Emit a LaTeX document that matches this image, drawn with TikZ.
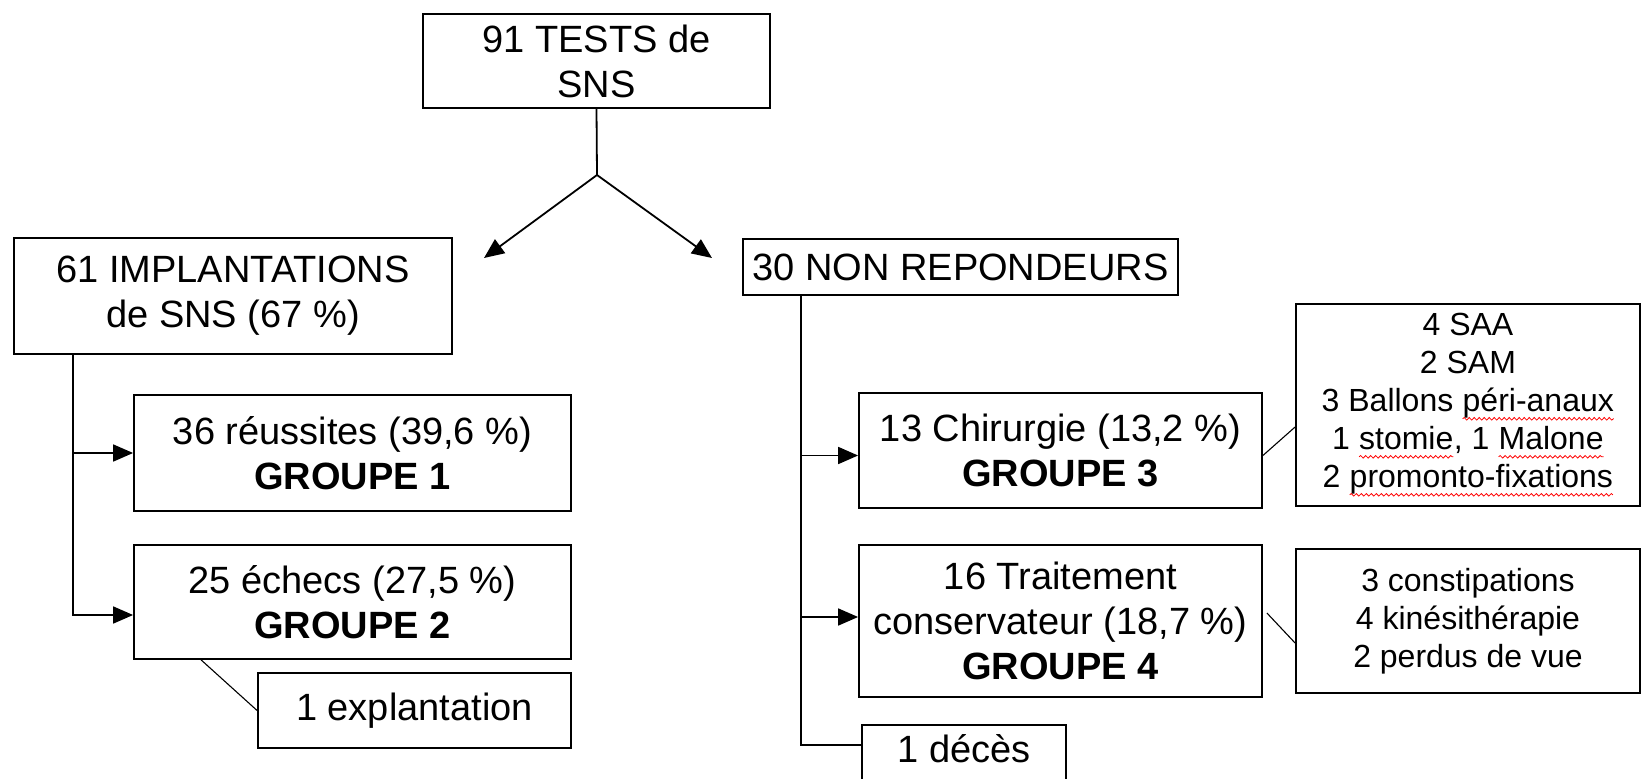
\documentclass[tikz,border=0pt]{standalone}
\usepackage{fontspec}
\setmainfont{Liberation Sans}
\usetikzlibrary{arrows.meta, decorations.pathmorphing}

\newcommand\redwave[1]{\tikz[baseline=(w.base)]{\node[inner sep=0pt, outer sep=0pt, minimum size=0pt, draw=none] (w) {#1};
  \draw[red, line width=0.8pt, decorate, decoration={snake, amplitude=1.3pt, segment length=5pt}] ([yshift=-7pt]w.base west) -- ([yshift=-7pt]w.base east);}}

\tikzset{
  box/.style={draw, line width=1.8pt, align=center, inner sep=0pt, font=\fontsize{38}{45}\selectfont},
  detail/.style={box, font=\fontsize{32}{38}\selectfont},
  arr/.style={line width=1.8pt, -{Triangle[length=20pt,width=17pt]}},
  link/.style={line width=1.8pt},
  thinlink/.style={line width=1.1pt}
}

\begin{document}
\begin{tikzpicture}[x=1pt, y=-1pt]
			\useasboundingbox (0,0) rectangle (1642,779);
			
			% Top node
			\node[box, minimum width=347, minimum height=94] (tests) at (596.5,61) {91 TESTS de\\SNS};
			
			% Left branch
			\node[box, minimum width=438, minimum height=116] (impl) at (233,296) {61 IMPLANTATIONS\\de SNS (67 \%)};
			\node[box, minimum width=437, minimum height=116] (g1) at (352.5,453) {36 réussites (39,6 \%)\\\textbf{GROUPE 1}};
			\node[box, minimum width=437, minimum height=114] (g2) at (352.5,602) {25 échecs (27,5 \%)\\\textbf{GROUPE 2}};
			\node[box, minimum width=313, minimum height=75] (expl) at (414.5,710.5) {1 explantation};
			
			% Right branch
			\node[box, minimum width=435, minimum height=56] (nonrep) at (960.5,267) {30 NON REPONDEURS};
			\node[box, minimum width=403, minimum height=115] (g3) at (1060.5,450.5) {13 Chirurgie (13,2 \%)\\\textbf{GROUPE 3}};
			\node[box, minimum width=403, minimum height=152] (g4) at (1060.5,621) {16 Traitement\\conservateur (18,7 \%)\\\textbf{GROUPE 4}};
			\node[box, anchor=north, minimum width=204, text height=38pt, text depth=60pt] (deces) at (964,724) {1 décès};
			
			% Detail nodes
			\node[detail, minimum width=344, minimum height=202] (g3d) at (1468,405) {4 SAA\\2 SAM\\3 Ballons \redwave{péri-anaux}\\1 \redwave{stomie}, 1 \redwave{Malone}\\2 \redwave{promonto-fixations}};
			\node[detail, minimum width=344, minimum height=144] (g4d) at (1468,621) {3 constipations\\4 kinésithérapie\\2 perdus de vue};
			
			% Split below the top node
			\coordinate (split) at (597,175);
			\coordinate (tipL) at (484,258);
			\coordinate (tipR) at (712,258);
			\draw[link] (tests.south) -- (split);
			\draw[arr] (split) -- (tipL);
			\draw[arr] (split) -- (tipR);
			
			% Left trunk
			\coordinate (trunkL) at (73,0);
			\coordinate (g2in) at ([yshift=-13pt]g2.west);
			\draw[arr] (impl.south -| trunkL) |- (g2in);
			\draw[arr] (trunkL |- g1.west) -- (g1.west);
			\draw[thinlink] ([xshift=68pt]g2.south west) -- (expl.west);
			
			% Right trunk
			\coordinate (trunkR) at (801,0);
			\coordinate (g3in) at ([yshift=-5pt]g3.west);
			\coordinate (g4in) at ([yshift=4pt]g4.west);
			\coordinate (decin) at ([yshift=18pt]deces.base west);
			\draw[link] (nonrep.south -| trunkR) |- (decin);
			\draw[arr] (trunkR |- g3in) -- (g3in);
			\draw[arr] (trunkR |- g4in) -- (g4in);
			
			% Links to the detail nodes
			\draw[thinlink] ([yshift=-5pt]g3.east) -- ([yshift=-22pt]g3d.west);
			\draw[thinlink] ([xshift=4pt, yshift=8pt]g4.east) -- ([yshift=-22pt]g4d.west);
		\end{tikzpicture}
\end{document}
